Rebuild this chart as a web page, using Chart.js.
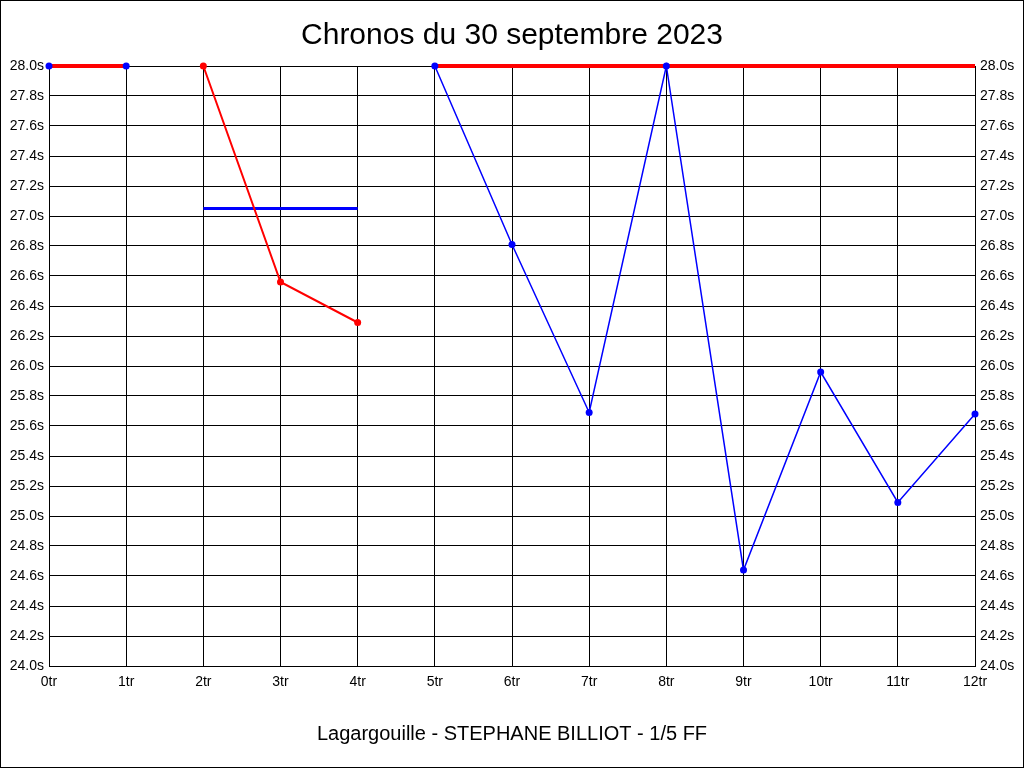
<!DOCTYPE html>
<html lang="fr">
<head>
    <meta charset="UTF-8">
    <title>Chronos du 30 septembre 2023</title>
    <script src="https://cdn.jsdelivr.net/npm/chart.js"></script>
    <style>
        body {
            margin: 0;
            background: #fff;
        }
        #chart-container {
            position: relative;
            width: 1024px;
            height: 768px;
        }
    </style>
</head>
<body>
    <div id="chart-container">
        <canvas id="chronos"></canvas>
    </div>

    <script>
        // Tours (axe X)
        const laps = ['0tr', '1tr', '2tr', '3tr', '4tr', '5tr', '6tr', '7tr', '8tr', '9tr', '10tr', '11tr', '12tr'];
        // Chronos en secondes
        const redTimes  = [null, null, 28.0, 26.56, 26.29, null, null, null, null, null, null, null, null];
        const blueTimes = [28.0, 28.0, null, null, null, 28.0, 26.81, 25.69, 28.0, 24.64, 25.96, 25.09, 25.68];
        const capTimes  = [28.0, 28.0, null, null, null, 28.0, 28.0, 28.0, 28.0, 28.0, 28.0, 28.0, 28.0];
        const avgTimes  = [null, null, 27.05, 27.05, 27.05, null, null, null, null, null, null, null, null];
        const yMin = 24.0;
        const yMax = 28.0;
        const yStep = 0.2;

        const RED = '#ff0000';
        const BLUE = '#0000ff';

        const frame = {
            id: 'frame',
            afterDraw(chart) {
                const c = chart.ctx;
                c.save();
                c.strokeStyle = '#000';
                c.lineWidth = 1;
                c.strokeRect(0.5, 0.5, chart.width - 1, chart.height - 1);
                c.restore();
            }
        };

        const tickFont = { family: 'Arial, "Liberation Sans", sans-serif', size: 14 };
        const secLabel = v => v.toFixed(1) + 's';

        new Chart(document.getElementById('chronos'), {
            type: 'line',
            data: {
                labels: laps,
                datasets: [
                    {
                        data: redTimes,
                        borderColor: RED,
                        backgroundColor: RED,
                        borderWidth: 2,
                        pointRadius: 3.5,
                        pointBorderWidth: 0
                    },
                    {
                        data: blueTimes,
                        borderColor: BLUE,
                        backgroundColor: BLUE,
                        borderWidth: 1.5,
                        pointRadius: 3.5,
                        pointBorderWidth: 0,
                        segment: {
                            borderColor: ctx => ctx.p0DataIndex < 1 ? 'transparent' : BLUE
                        }
                    },
                    {
                        data: capTimes,
                        borderColor: RED,
                        borderWidth: 4,
                        pointRadius: 0
                    },
                    {
                        data: avgTimes,
                        borderColor: BLUE,
                        borderWidth: 3,
                        pointRadius: 0
                    }
                ]
            },
            options: {
                responsive: true,
                maintainAspectRatio: false,
                animation: false,
                layout: { padding: 0 },
                datasets: { line: { clip: false } },
                plugins: {
                    legend: { display: false },
                    tooltip: { enabled: false },
                    title: {
                        display: true,
                        text: 'Chronos du 30 septembre 2023',
                        color: '#000',
                        font: { family: 'Arial, "Liberation Sans", sans-serif', size: 30, weight: 'normal' },
                        padding: { top: 18, bottom: 12 }
                    }
                },
                scales: {
                    x: {
                        grid: { color: '#000', lineWidth: 1, drawTicks: false },
                        border: { color: '#000' },
                        ticks: { color: '#000', font: tickFont, padding: 8, maxRotation: 0, autoSkip: false },
                        title: {
                            display: true,
                            text: 'Lagargouille - STEPHANE BILLIOT - 1/5 FF',
                            color: '#000',
                            font: { family: 'Arial, "Liberation Sans", sans-serif', size: 20 },
                            padding: { top: 0, bottom: 22 }
                        },
                        afterFit(scale) { scale.height = 102; }
                    },
                    y: {
                        position: 'left',
                        min: yMin,
                        max: yMax,
                        grid: { color: '#000', lineWidth: 1, drawTicks: false },
                        border: { color: '#000' },
                        ticks: { stepSize: yStep, color: '#000', font: tickFont, padding: 5, callback: secLabel },
                        afterFit(scale) { scale.width = 49; }
                    },
                    y2: {
                        position: 'right',
                        min: yMin,
                        max: yMax,
                        grid: { drawOnChartArea: false, drawTicks: false },
                        border: { color: '#000' },
                        ticks: { stepSize: yStep, color: '#000', font: tickFont, padding: 5, callback: secLabel },
                        afterFit(scale) { scale.width = 49; }
                    }
                }
            },
            plugins: [frame]
        });
    </script>
</body>
</html>
